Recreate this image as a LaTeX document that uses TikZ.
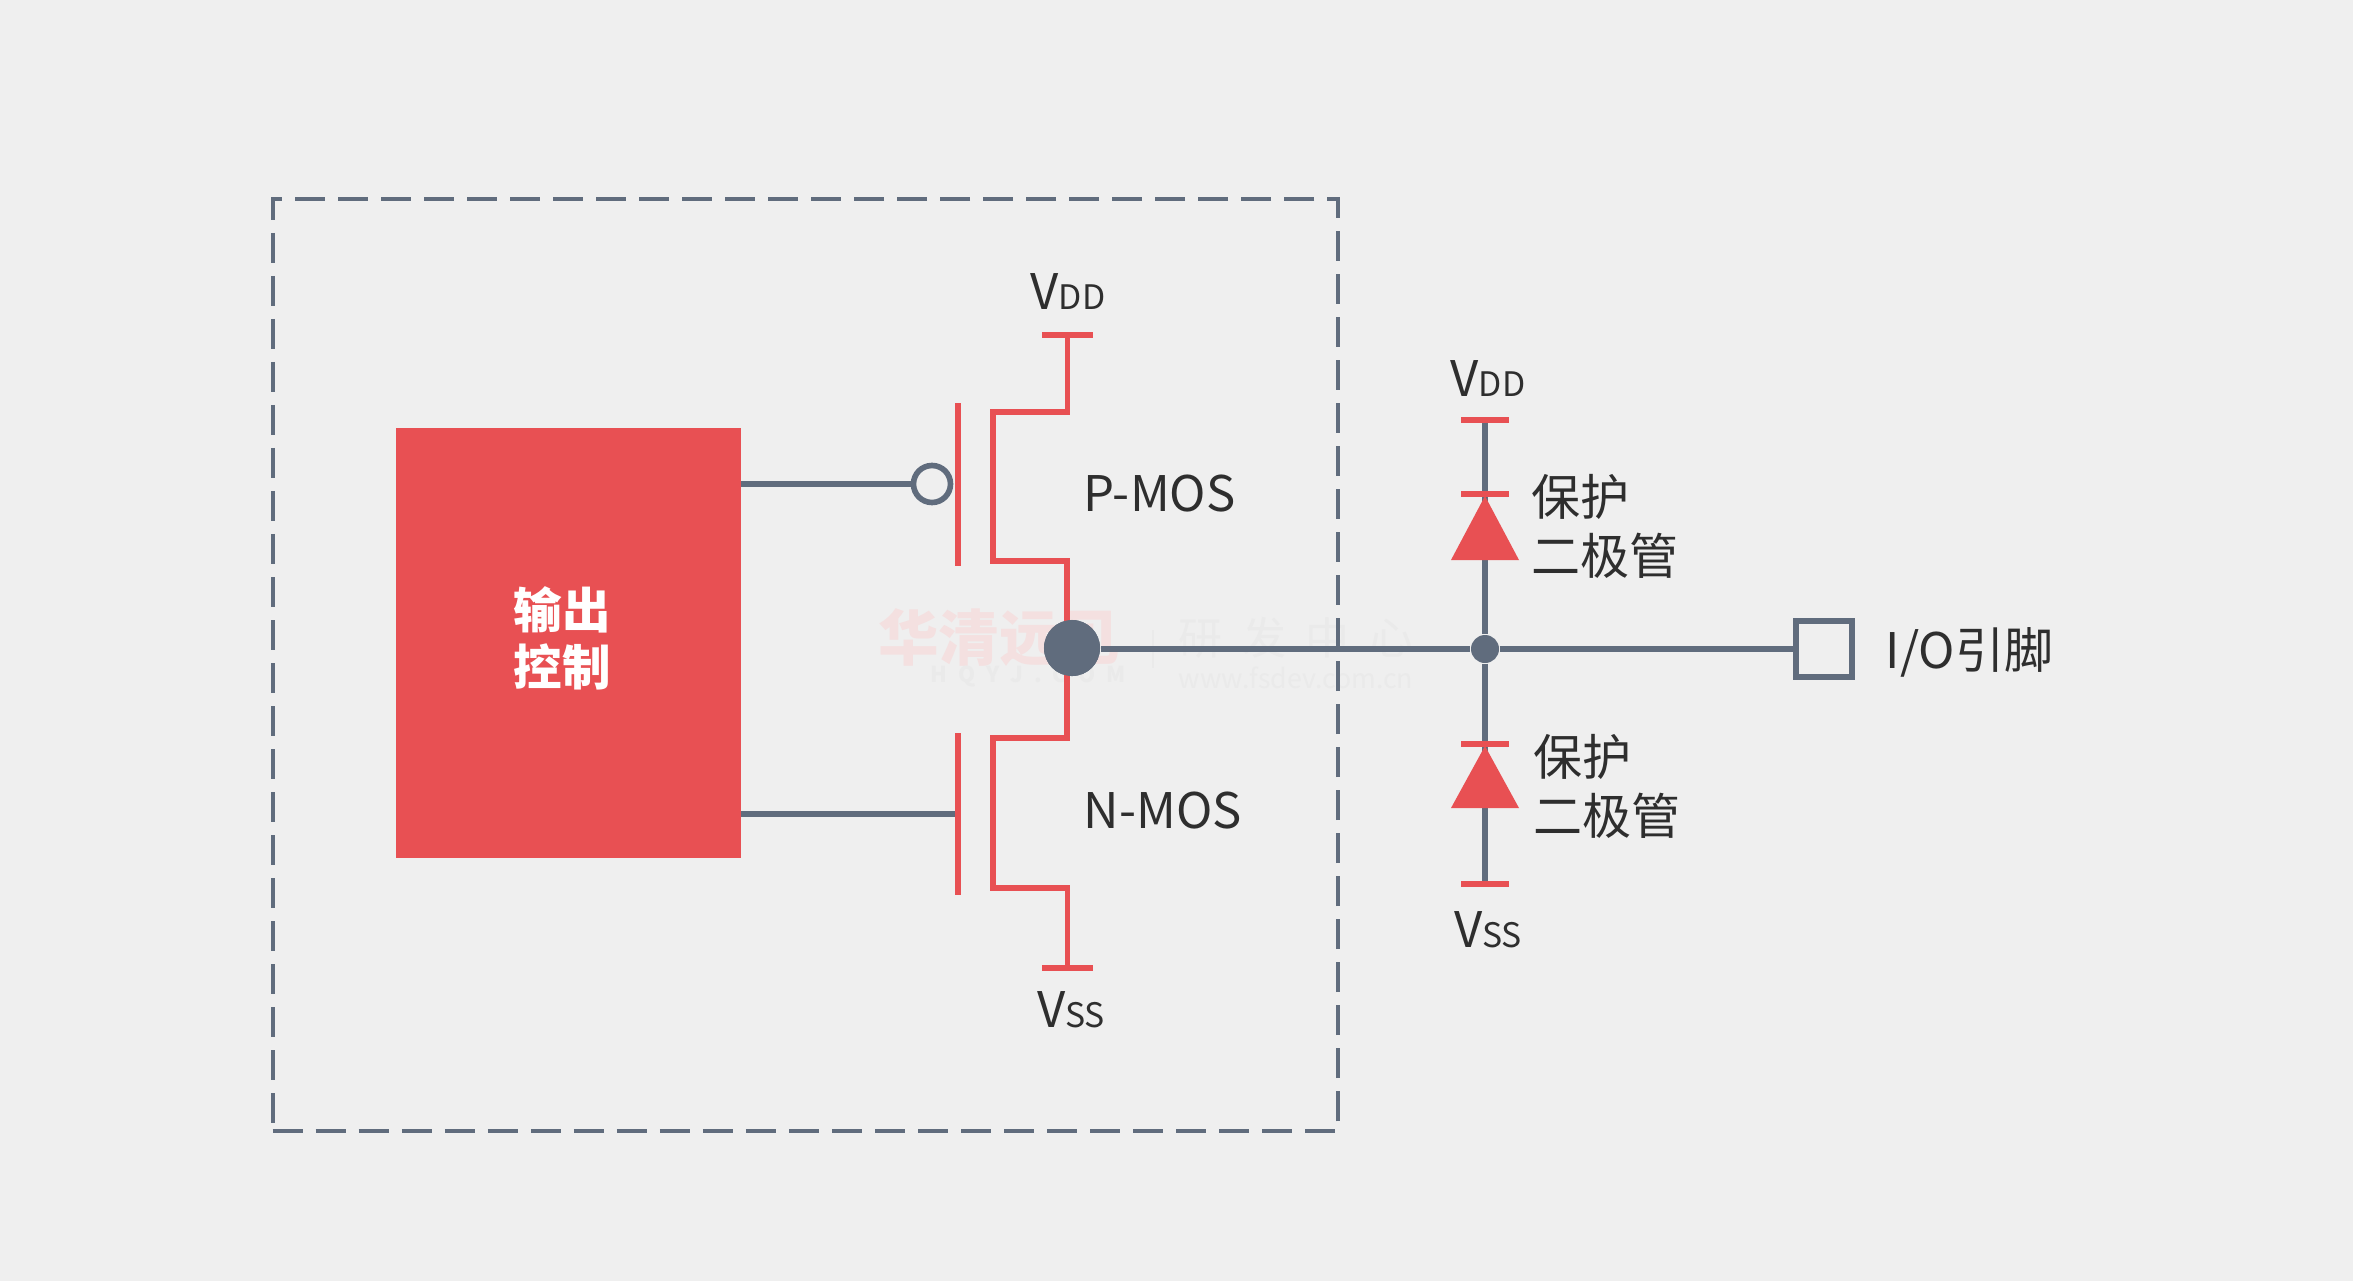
\documentclass[tikz,border=0pt]{standalone}
\usepackage{fontspec}
\setmainfont{Noto Sans CJK SC}
\usepackage{tikz}
\usetikzlibrary{positioning}

\definecolor{bgcol}{HTML}{EFEFEF}
\definecolor{redcol}{HTML}{E85053}
\definecolor{graycol}{HTML}{606C7D}
\definecolor{txtcol}{HTML}{2E2E2E}
\definecolor{wmred}{HTML}{F4E0E0}
\definecolor{wmgray}{HTML}{EAEAEA}

\newcommand{\smallrail}[1]{V{\fontsize{9.6}{12}\selectfont #1}}

\tikzset{
  redwire/.style={draw=redcol,line width=1.6pt},
  graywire/.style={draw=graycol,line width=1.6pt},
  railbar/.style={rectangle,fill=redcol,inner sep=0pt,outer sep=0pt,minimum height=0.055cm,minimum width=#1},
  gatebar/.style={rectangle,fill=redcol,inner sep=0pt,outer sep=0pt,minimum width=0.055cm,minimum height=#1},
  lbl/.style={text=txtcol,inner sep=0pt,font=\fontsize{13.95}{16.8}\selectfont,align=left}
}

\begin{document}
\begin{tikzpicture}[x=0.01cm,y=-0.01cm]
\useasboundingbox[fill=bgcol] (0,0) rectangle (2353,1281);

% watermark
\begin{scope}[every node/.style={inner sep=0pt}]
\node[text=wmred,font=\fontsize{17.2}{20}\selectfont\bfseries] (wm1) at (999,638) {华清远见};
\node[text=wmgray,font=\fontsize{6.2}{8}\selectfont\bfseries] (wm2) at (1028,677) {H\,\,\,Q\,\,\,Y\,\,\,J\,\,\,.\,\,\,C\,\,\,O\,\,\,M};
\node[text=wmgray,font=\fontsize{12.5}{15}\selectfont] (wm3) at (1296,638) {研\hspace{0.45em}发\hspace{0.45em}中\hspace{0.45em}心};
\node[text=wmgray,font=\fontsize{7.6}{9}\selectfont] (wm4) at (1296,678) {www.fsdev.com.cn};
\coordinate (wm5) at (1153,630);
\coordinate (wm6) at (1153,668);
\end{scope}
\draw[wmgray,line width=0.5pt] (wm5) -- (wm6);

% chip outline and control block
\node[draw=graycol,line width=1.15pt,dash pattern=on 0.3cm off 0.13cm,minimum width=10.65cm,minimum height=9.32cm,inner sep=0pt] (chip) at (805.5,665) {};
\node[fill=redcol,minimum width=3.45cm,minimum height=4.30cm,inner sep=0pt,outer sep=0pt] (ctl) at (568.5,643) {};
\node[text=white,inner sep=0pt,align=center,font=\fontsize{13.8}{16.2}\selectfont\bfseries] (ctltxt) at (562,638) {输出\\控制};

% output nodes
\coordinate (out) at (1072,648);
\node[circle,fill=graycol,inner sep=0pt,minimum size=0.56cm] (outdot) at (out) {};
\node[circle,fill=graycol,inner sep=0pt,minimum size=0.28cm] (jn) at (1485,649) {};
\node[draw=graycol,line width=1.7pt,inner sep=0pt,minimum size=0.56cm,fill=bgcol] (pin) at (1824,649) {};

% P-MOS
\node[railbar=0.5cm] (vdd1) at (1067.5,335) {};
\node[gatebar=1.63cm] (pgate) at (958,484.5) {};
\node[circle,draw=graycol,line width=1.6pt,inner sep=0pt,minimum size=0.37cm] (bub) at (932,484) {};
\coordinate (ptop) at (993,412);
\coordinate (pbot) at (993,561);
\coordinate (pout) at (1067,648);
\draw[redwire] (vdd1.center) |- (ptop) -- (pbot) -| (pout);
\draw[graywire] (ctl.east |- bub) -- (bub);

% N-MOS
\node[railbar=0.5cm] (vss1) at (1067.5,968) {};
\node[gatebar=1.62cm] (ngate) at (958,814) {};
\coordinate (ntop) at (993,738);
\coordinate (nbot) at (993,888);
\draw[redwire] (pout) |- (ntop) -- (nbot) -| (vss1.center);
\draw[graywire] (ctl.east |- ngate) -- (ngate);

\node[circle,fill=graycol,inner sep=0pt,minimum size=0.56cm] at (out) {};
\draw[graywire] (outdot.east |- jn) -- (jn) -- (pin);

% protection diodes
\node[railbar=0.47cm] (vdd2) at (1485,420) {};
\node[railbar=0.47cm] (vss2) at (1485,884) {};
\draw[graywire] (vdd2) -- (jn) -- (vss2);
\node[railbar=0.47cm] (cat1) at (1485,494) {};
\node[railbar=0.47cm] (cat2) at (1485,744) {};
\fill[redcol] (1485,496) -- (1451,560) -- (1519,560) -- cycle;
\fill[redcol] (1485,746) -- (1451,808) -- (1519,808) -- cycle;

% labels
\begin{scope}[every node/.style={lbl}]
\node (t1) at (1068,292) {\smallrail{DD}};
\node (t2) at (1071,1010) {\smallrail{SS}};
\node (t3) at (1488,379) {\smallrail{DD}};
\node (t4) at (1488,930) {\smallrail{SS}};
\node[anchor=west] (t5) at (1083,494) {P-MOS};
\node[anchor=west] (t6) at (1083,811) {N-MOS};
\node[anchor=west] (t7) at (1531,526) {保护\\二极管};
\node[anchor=west] (t8) at (1533,786) {保护\\二极管};
\node[anchor=west] (t9) at (1885,652) {I/O引脚};
\end{scope}
\end{tikzpicture}
\end{document}
